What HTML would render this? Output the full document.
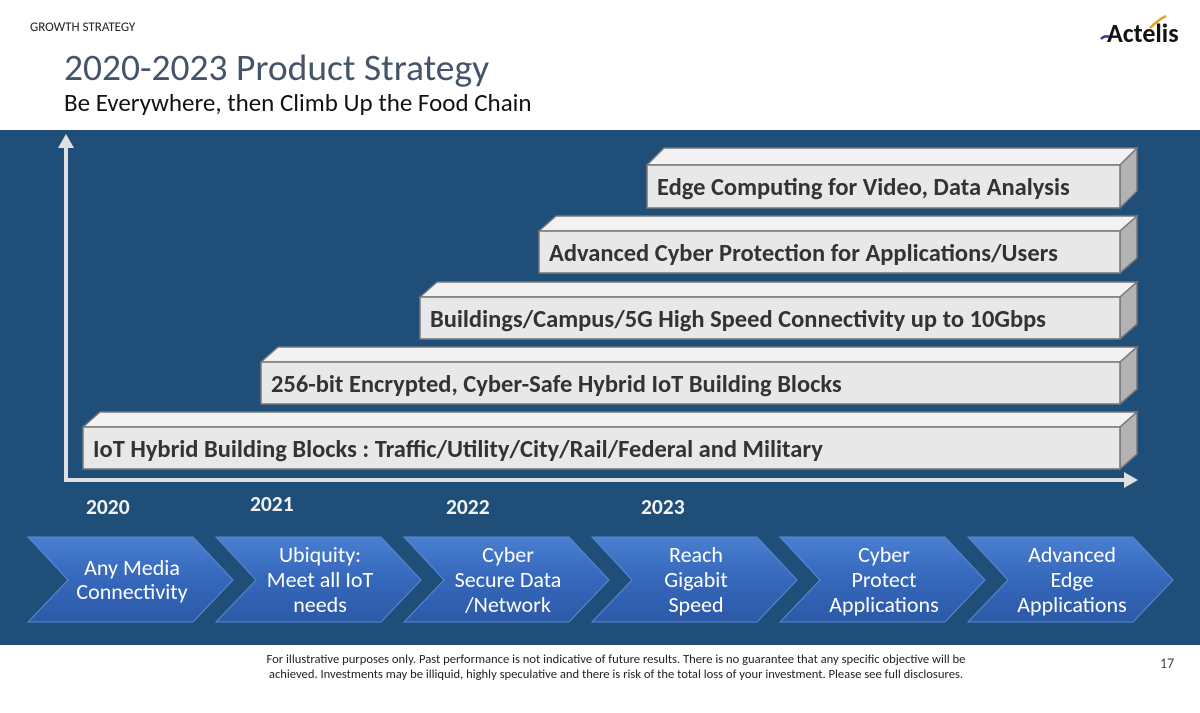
<!DOCTYPE html>
<html><head><meta charset="utf-8"><style>
body{margin:0;width:1200px;height:708px;overflow:hidden;background:#fff;font-family:"Liberation Sans",sans-serif}
</style></head><body>
<svg width="1200" height="708" viewBox="0 0 1200 708" xmlns="http://www.w3.org/2000/svg" font-family="Carlito, 'Liberation Sans', sans-serif">
<defs>
<linearGradient id="cg" x1="0" y1="0" x2="0" y2="1">
<stop offset="0" stop-color="#4a7fd0"/><stop offset="0.5" stop-color="#3567bb"/><stop offset="1" stop-color="#2c5aa8"/>
</linearGradient>
</defs>
<text x="30" y="31" font-size="13" fill="#222">GROWTH STRATEGY</text>
<text x="64" y="80" font-size="37.5" fill="#44546a">2020-2023 Product Strategy</text>
<text x="64" y="111" font-size="25" fill="#111">Be Everywhere, then Climb Up the Food Chain</text>
<text x="1107" y="42" font-size="26" font-weight="bold" fill="#111">Actelis</text>
<path d="M1101 39 q4 -4 8 -2" stroke="#5b2ca0" stroke-width="2.5" fill="none"/>
<path d="M1150 28 q8 -8 16 -12" stroke="#e8a020" stroke-width="2.5" fill="none"/>
<rect x="0" y="130" width="1200" height="515" fill="#1f4e79"/>
<line x1="66" y1="146" x2="66" y2="480" stroke="#e0e0e0" stroke-width="4"/>
<polygon points="58,148 66,134 74,148" fill="#e0e0e0"/>
<line x1="64" y1="480" x2="1126" y2="480" stroke="#e0e0e0" stroke-width="4"/>
<polygon points="1124,472 1138,480 1124,488" fill="#e0e0e0"/>
<g stroke="#777" stroke-width="1.5">
<g><polygon points="647,165 664,148 1137,148 1120,165" fill="#f2f2f2"/><polygon points="1120,165 1137,148 1137,191 1120,208" fill="#b3b3b3"/><rect x="647" y="165" width="473" height="43" fill="#e8e8e8"/></g>
<g><polygon points="539,231 556,216 1137,216 1120,231" fill="#f2f2f2"/><polygon points="1120,231 1137,216 1137,258 1120,273" fill="#b3b3b3"/><rect x="539" y="231" width="581" height="42" fill="#e8e8e8"/></g>
<g><polygon points="420,297 437,282 1137,282 1120,297" fill="#f2f2f2"/><polygon points="1120,297 1137,282 1137,324 1120,339" fill="#b3b3b3"/><rect x="420" y="297" width="700" height="42" fill="#e8e8e8"/></g>
<g><polygon points="261,362 278,347 1137,347 1120,362" fill="#f2f2f2"/><polygon points="1120,362 1137,347 1137,389 1120,404" fill="#b3b3b3"/><rect x="261" y="362" width="859" height="42" fill="#e8e8e8"/></g>
<g><polygon points="83,427 100,412 1137,412 1120,427" fill="#f2f2f2"/><polygon points="1120,427 1137,412 1137,454 1120,469" fill="#b3b3b3"/><rect x="83" y="427" width="1037" height="42" fill="#e8e8e8"/></g>
</g>
<g font-size="24.5" font-weight="bold" fill="#333">
<text x="657" y="195">Edge Computing for Video, Data  Analysis</text>
<text x="549" y="261">Advanced Cyber Protection for Applications/Users</text>
<text x="430" y="327">Buildings/Campus/5G High Speed Connectivity up to 10Gbps</text>
<text x="271" y="392">256-bit Encrypted, Cyber-Safe Hybrid IoT Building Blocks</text>
<text x="93" y="457">IoT Hybrid Building Blocks : Traffic/Utility/City/Rail/Federal and Military</text>
</g>
<g font-size="21.5" font-weight="bold" fill="#f2f2f2">
<text x="86" y="514">2020</text>
<text x="250" y="511">2021</text>
<text x="446" y="514">2022</text>
<text x="641" y="514">2023</text>
</g>
<g fill="url(#cg)" stroke="#5a8ad8" stroke-width="1">
<polygon points="28,537 193,537 233,580 193,622 28,622 68,580"/>
<polygon points="216,537 381,537 421,580 381,622 216,622 256,580"/>
<polygon points="404,537 569,537 609,580 569,622 404,622 444,580"/>
<polygon points="592,537 757,537 797,580 757,622 592,622 632,580"/>
<polygon points="780,537 945,537 985,580 945,622 780,622 820,580"/>
<polygon points="968,537 1133,537 1173,580 1133,622 968,622 1008,580"/>
</g>
<g font-size="22" fill="#fff" text-anchor="middle">
<text x="132" y="575">Any Media</text><text x="132" y="599">Connectivity</text>
<text x="320" y="562">Ubiquity:</text><text x="320" y="587">Meet all IoT</text><text x="320" y="612">needs</text>
<text x="508" y="562">Cyber</text><text x="508" y="587">Secure Data</text><text x="508" y="612">/Network</text>
<text x="696" y="562">Reach</text><text x="696" y="587">Gigabit</text><text x="696" y="612">Speed</text>
<text x="884" y="562">Cyber</text><text x="884" y="587">Protect</text><text x="884" y="612">Applications</text>
<text x="1072" y="562">Advanced</text><text x="1072" y="587">Edge</text><text x="1072" y="612">Applications</text>
</g>
<g font-size="12.6" fill="#222" text-anchor="middle">
<text x="616" y="663">For illustrative purposes only. Past performance is not indicative of future results.  There is no guarantee that any specific objective will be</text>
<text x="616" y="678">achieved.  Investments may be illiquid, highly speculative and there is risk of the total loss of your investment.  Please see full disclosures.</text>
</g>
<text x="1160" y="668" font-size="14" fill="#444">17</text>
</svg>
</body></html>
